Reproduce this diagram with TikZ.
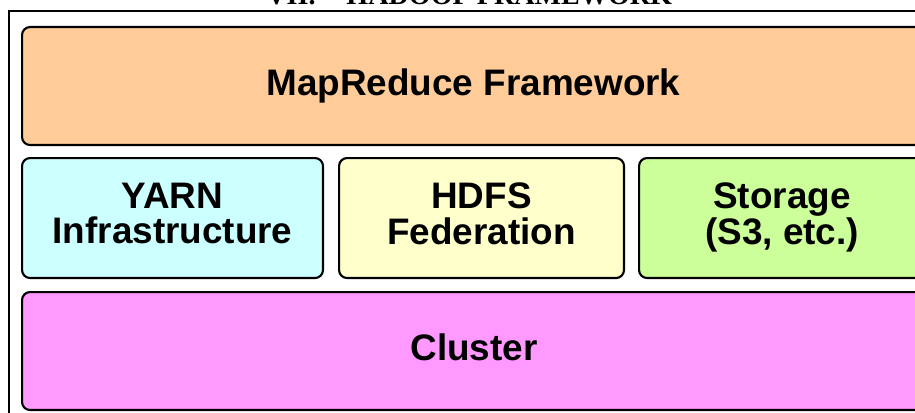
\documentclass[tikz,border=0pt]{standalone}
\usepackage{fontspec}
\setmainfont{Liberation Sans}
\newfontfamily\titlefont{Liberation Serif}
\usetikzlibrary{positioning}
\definecolor{mapcol}{HTML}{FFCC99}
\definecolor{yarncol}{HTML}{CCFFFF}
\definecolor{hdfscol}{HTML}{FFFFCC}
\definecolor{storecol}{HTML}{CCFF99}
\definecolor{clustcol}{HTML}{FF99FF}

\begin{document}
\begin{tikzpicture}[x=0.02cm, y=-0.02cm,
  layer/.style={draw=black, line width=1.2pt, rounded corners=0.16cm, anchor=north west,
    align=center, inner sep=0pt, text depth=5pt, font=\fontsize{21}{20}\selectfont\bfseries}]
	\useasboundingbox (0,0) rectangle (915,412);
	\node[anchor=base west, inner sep=0pt, font=\titlefont\fontsize{16}{18}\selectfont\bfseries] (title) at (266,5) {VII.\hspace{1.1em}HADOOP FRAMEWORK};
	\draw[line width=1.1pt] (9,11) rectangle (936,421);
	\node[layer, fill=mapcol, minimum width=18.06cm, minimum height=2.36cm] (mapred) at (21,26) {MapReduce Framework};
	\node[layer, fill=yarncol, minimum width=6.02cm, minimum height=2.4cm] (yarn) at (21,157) {YARN\\Infrastructure};
	\node[layer, fill=hdfscol, minimum width=5.7cm, minimum height=2.4cm] (hdfs) at (338,157) {HDFS\\Federation};
	\node[layer, fill=storecol, minimum width=5.72cm, minimum height=2.4cm] (storage) at (638,157) {Storage\\(S3, etc.)};
	\node[layer, fill=clustcol, minimum width=18.08cm, minimum height=2.36cm] (cluster) at (21,291) {Cluster};
\end{tikzpicture}
\end{document}
